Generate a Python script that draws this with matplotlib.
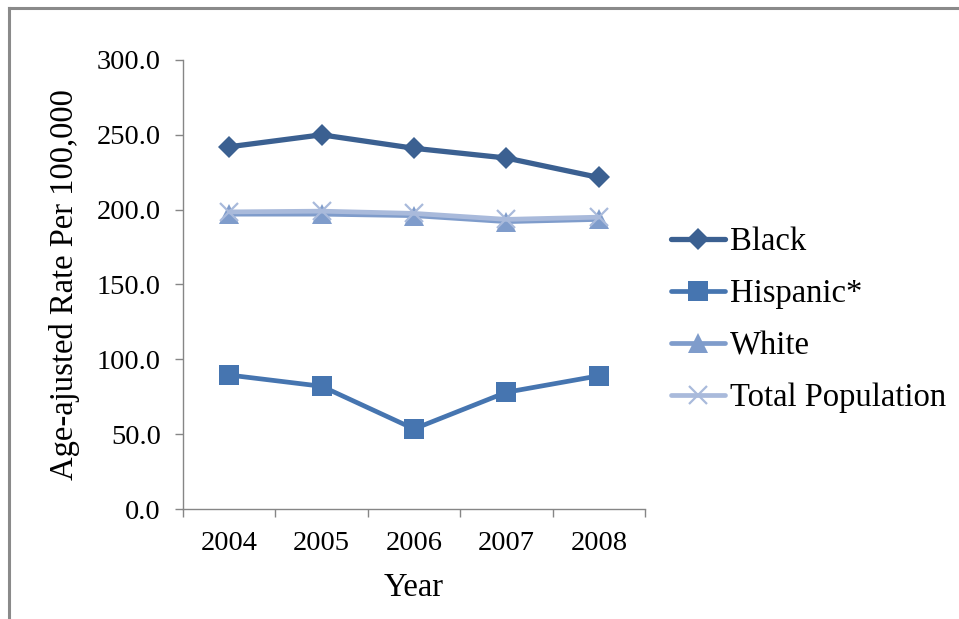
import matplotlib
matplotlib.use("Agg")
import matplotlib.pyplot as plt
from matplotlib.lines import Line2D
from matplotlib.ticker import FixedLocator, NullFormatter, FormatStrFormatter

# Age-adjusted rates per 100,000 by year
years = ["2004", "2005", "2006", "2007", "2008"]
black = [242.0, 250.0, 241.0, 234.5, 221.5]
hispanic = [89.5, 82.0, 53.5, 78.0, 89.0]
white = [197.0, 197.0, 196.0, 192.0, 193.5]
total = [198.5, 199.0, 197.5, 193.5, 195.0]

series = [
    ("Black", black, "#3B6091", "D", 10.7, 3.8),
    ("Hispanic*", hispanic, "#4675B0", "s", 15, 3.4),
    ("White", white, "#7F9CCB", "^", 14.5, 3.4),
    ("Total Population", total, "#A9BADB", "x", 13, 3.4),
]

plt.rcParams["font.family"] = ["Liberation Serif", "DejaVu Serif"]

fig = plt.figure(figsize=(9.59, 6.19), dpi=100)
ax = fig.add_axes([0.1908, 0.1777, 0.4818, 0.7254])

xs = range(len(years))
for name, vals, color, marker, ms, lw in series:
    kw = dict(markeredgewidth=1.6) if marker == "x" else dict(markeredgewidth=0)
    ax.plot(xs, vals, color=color, linewidth=lw, marker=marker,
            markersize=ms, markerfacecolor=color, markeredgecolor=color,
            label=name, solid_capstyle="round", solid_joinstyle="round", **kw)

ax.set_ylim(0, 300)
ax.set_xlim(-0.5, len(years) - 0.5)
ax.set_yticks([0, 50, 100, 150, 200, 250, 300])
ax.yaxis.set_major_formatter(FormatStrFormatter("%.1f"))

# category axis: tick marks between years, labels centred on each year
ax.xaxis.set_major_locator(FixedLocator([i - 0.5 for i in range(len(years) + 1)]))
ax.xaxis.set_major_formatter(NullFormatter())
ax.xaxis.set_minor_locator(FixedLocator(list(xs)))
ax.set_xticklabels(years, minor=True)
ax.tick_params(axis="x", which="minor", length=0, pad=16, labelsize=20.5)
ax.tick_params(axis="x", which="major", length=6, color="#868686", width=1)
ax.tick_params(axis="y", length=6, color="#868686", width=1, pad=10, labelsize=20.5)

for side in ("top", "right"):
    ax.spines[side].set_visible(False)
for side in ("left", "bottom"):
    ax.spines[side].set_color("#868686")
    ax.spines[side].set_linewidth(1)

ax.set_xlabel("Year", fontsize=23.5, labelpad=12)
ax.set_ylabel("Age-ajusted Rate Per 100,000", fontsize=23.5, labelpad=12)

ax.legend(loc="center left", bbox_to_anchor=(0.700, 0.483),
          bbox_transform=fig.transFigure, frameon=False, fontsize=23.5,
          handlelength=1.65, handletextpad=0.15, labelspacing=0.66,
          borderaxespad=0, borderpad=0)

# outer chart frame (left and top edges)
fig.add_artist(Line2D([0.0089, 0.0089], [0.0, 0.9865], transform=fig.transFigure,
                      color="#8a8a8a", linewidth=2.2))
fig.add_artist(Line2D([0.0089, 1.0], [0.9865, 0.9865], transform=fig.transFigure,
                      color="#8a8a8a", linewidth=2.2))

fig.savefig("out.png", dpi=100)
